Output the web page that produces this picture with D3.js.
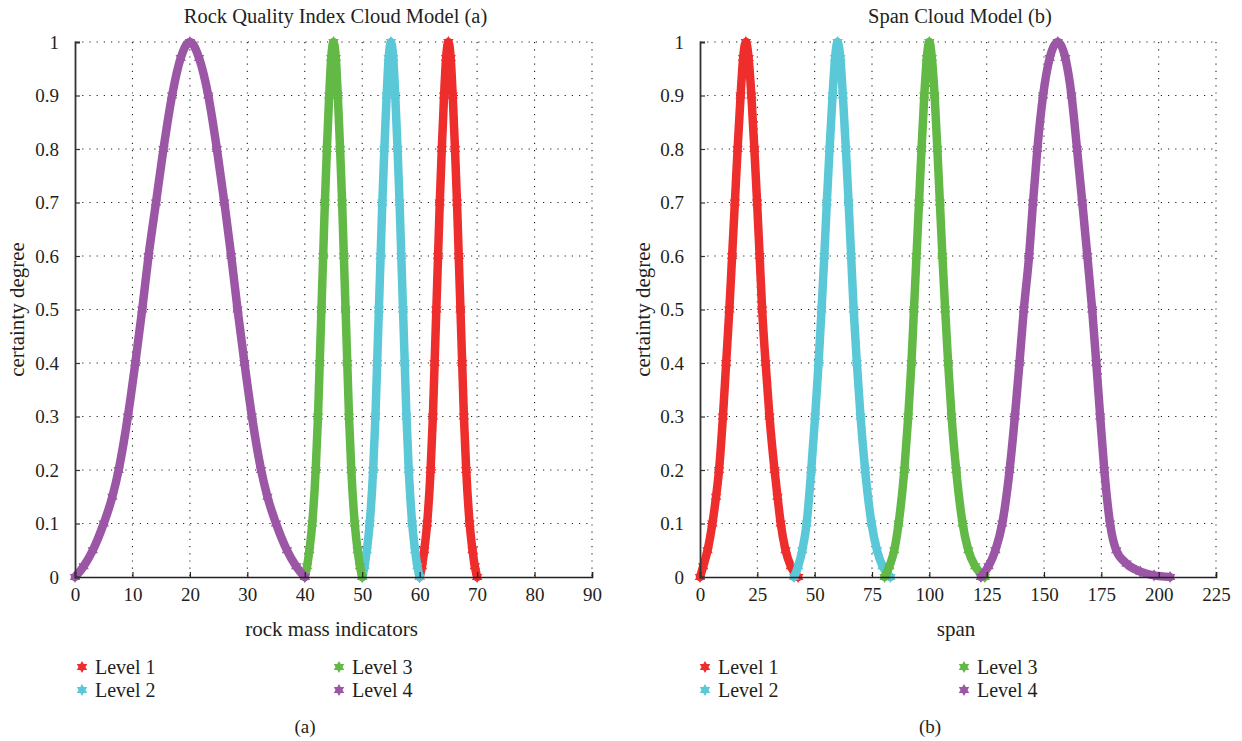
<!DOCTYPE html>
<html>
<head>
<meta charset="utf-8">
<script src="https://cdn.jsdelivr.net/npm/d3@7"></script>
<style>
  html, body { margin: 0; padding: 0; background: #ffffff; }
  svg { display: block; }
  text { font-family: "Liberation Serif", "DejaVu Serif", serif; fill: #231f20; }
</style>
</head>
<body>
<svg id="chart" width="1242" height="741"></svg>
<script>
// ---------------- DATA ----------------
const levelNames = ["Level 1", "Level 2", "Level 3", "Level 4"];
const levelColors = ["#ee2d2d", "#5bc8d8", "#63b946", "#9b57a5"];

const yTicks = [0, 0.1, 0.2, 0.3, 0.4, 0.5, 0.6, 0.7, 0.8, 0.9, 1];
const yTickLabels = ["0", "0.1", "0.2", "0.3", "0.4", "0.5", "0.6", "0.7", "0.8", "0.9", "1"];

// Panel (a): rock mass indicators
const xTicksA = [0, 10, 20, 30, 40, 50, 60, 70, 80, 90];
const level1A_x = [60, 60.4, 60.8, 61.3, 61.9, 62.3, 62.6, 62.9, 63.2, 63.5, 63.85, 64.25, 64.6, 65, 65.4, 65.75, 66.15, 66.5, 66.8, 67.1, 67.4, 67.7, 68.1, 68.7, 69.2, 69.6, 70];
const level1A_y = [0, 0.02, 0.05, 0.1, 0.2, 0.3, 0.4, 0.5, 0.6, 0.7, 0.8, 0.9, 0.97, 1, 0.97, 0.9, 0.8, 0.7, 0.6, 0.5, 0.4, 0.3, 0.2, 0.1, 0.05, 0.02, 0];
const level2A_x = [50, 50.4, 50.8, 51.3, 51.9, 52.3, 52.6, 52.9, 53.2, 53.5, 53.85, 54.25, 54.6, 55, 55.4, 55.75, 56.15, 56.5, 56.8, 57.1, 57.4, 57.7, 58.1, 58.7, 59.2, 59.6, 60];
const level2A_y = [0, 0.02, 0.05, 0.1, 0.2, 0.3, 0.4, 0.5, 0.6, 0.7, 0.8, 0.9, 0.97, 1, 0.97, 0.9, 0.8, 0.7, 0.6, 0.5, 0.4, 0.3, 0.2, 0.1, 0.05, 0.02, 0];
const level3A_x = [40, 40.4, 40.8, 41.3, 41.9, 42.3, 42.6, 42.9, 43.2, 43.5, 43.85, 44.25, 44.6, 45, 45.4, 45.75, 46.15, 46.5, 46.8, 47.1, 47.4, 47.7, 48.1, 48.7, 49.2, 49.6, 50];
const level3A_y = [0, 0.02, 0.05, 0.1, 0.2, 0.3, 0.4, 0.5, 0.6, 0.7, 0.8, 0.9, 0.97, 1, 0.97, 0.9, 0.8, 0.7, 0.6, 0.5, 0.4, 0.3, 0.2, 0.1, 0.05, 0.02, 0];
const level4A_x = [0, 1.5, 3.1, 5.0, 6.5, 7.6, 9.2, 10.5, 11.7, 12.8, 14.1, 15.4, 16.9, 18.4, 20, 21.6, 23.2, 24.7, 26.0, 27.2, 28.3, 29.5, 30.8, 32.4, 33.5, 35.0, 36.9, 38.5, 40];
const level4A_y = [0, 0.02, 0.05, 0.1, 0.15, 0.2, 0.3, 0.4, 0.5, 0.6, 0.7, 0.8, 0.9, 0.97, 1, 0.97, 0.9, 0.8, 0.7, 0.6, 0.5, 0.4, 0.3, 0.2, 0.15, 0.1, 0.05, 0.02, 0];

// Panel (b): span
const xTicksB = [0, 25, 50, 75, 100, 125, 150, 175, 200, 225];
const level1B_x = [0, 1.4, 3.3, 5.4, 7.0, 8.3, 10.0, 11.4, 12.8, 14.0, 15.2, 16.4, 17.7, 18.8, 20, 21.2, 22.4, 23.7, 24.9, 26.0, 27.1, 28.6, 30.3, 32.5, 33.8, 35.2, 37.3, 39.6, 42.8];
const level1B_y = [0, 0.02, 0.05, 0.1, 0.15, 0.2, 0.3, 0.4, 0.5, 0.6, 0.7, 0.8, 0.9, 0.97, 1, 0.97, 0.9, 0.8, 0.7, 0.6, 0.5, 0.4, 0.3, 0.2, 0.15, 0.1, 0.05, 0.02, 0];
const level2B_x = [41, 42.8, 44.6, 46.5, 48.5, 50.2, 51.7, 53, 54.2, 55.3, 56.5, 57.8, 58.9, 60, 61.2, 62.3, 63.6, 64.8, 65.9, 67, 68.4, 70, 72, 74.8, 77.2, 79.6, 83];
const level2B_y = [0, 0.02, 0.05, 0.1, 0.2, 0.3, 0.4, 0.5, 0.6, 0.7, 0.8, 0.9, 0.97, 1, 0.97, 0.9, 0.8, 0.7, 0.6, 0.5, 0.4, 0.3, 0.2, 0.1, 0.05, 0.02, 0];
const level3B_x = [80.5, 82.6, 84.7, 86.6, 89.1, 90.8, 92.2, 93.3, 94.4, 95.5, 96.6, 97.8, 98.9, 100, 101.1, 102.3, 103.5, 104.6, 105.7, 106.9, 108.2, 109.7, 111.7, 114.5, 117, 120, 124.2];
const level3B_y = [0, 0.02, 0.05, 0.1, 0.2, 0.3, 0.4, 0.5, 0.6, 0.7, 0.8, 0.9, 0.97, 1, 0.97, 0.9, 0.8, 0.7, 0.6, 0.5, 0.4, 0.3, 0.2, 0.1, 0.05, 0.02, 0];
const level4B_x = [122.5, 125.8, 128.8, 131.8, 135, 137.3, 139.3, 141.2, 143.5, 145.2, 147.1, 149.6, 152.5, 156, 159.3, 162, 164.4, 166.7, 168.9, 171, 172.8, 174.5, 176.3, 178.8, 181.5, 186, 192, 198, 205];
const level4B_y = [0, 0.02, 0.05, 0.1, 0.2, 0.3, 0.4, 0.5, 0.6, 0.7, 0.8, 0.9, 0.97, 1, 0.97, 0.9, 0.8, 0.7, 0.6, 0.5, 0.4, 0.3, 0.2, 0.1, 0.05, 0.025, 0.01, 0.003, 0];

// ---------------- DRAWING ----------------
const FONT = '"Liberation Serif", "DejaVu Serif", serif';
const svg = d3.select("#chart");
const zip = (xs, ys) => xs.map((x, i) => ({ x: x, y: ys[i] }));

const panels = [
  {
    title: "Rock Quality Index Cloud Model (a)", xLabel: "rock mass indicators", caption: "(a)",
    left: 75, right: 592, domain: [0, 90], ticks: xTicksA,
    series: [zip(level1A_x, level1A_y), zip(level2A_x, level2A_y), zip(level3A_x, level3A_y), zip(level4A_x, level4A_y)],
    legendX: [82, 339], yLabelX: 24, captionX: 305
  },
  {
    title: "Span Cloud Model (b)", xLabel: "span", caption: "(b)",
    left: 700, right: 1216, domain: [0, 225], ticks: xTicksB,
    series: [zip(level1B_x, level1B_y), zip(level2B_x, level2B_y), zip(level3B_x, level3B_y), zip(level4B_x, level4B_y)],
    legendX: [705, 964], yLabelX: 650, captionX: 930
  }
];

const plotTop = 42, plotBottom = 577;
const y = d3.scaleLinear().domain([0, 1]).range([plotBottom, plotTop]);

// six-pointed star symbol
const star6 = {
  draw(context, size) {
    const r = Math.sqrt(size / 2.2);
    const ri = r * 0.58;
    for (let i = 0; i < 12; i++) {
      const a = Math.PI / 6 * i - Math.PI / 2;
      const rr = i % 2 === 0 ? r : ri;
      const px = rr * Math.cos(a), py = rr * Math.sin(a);
      if (i === 0) context.moveTo(px, py); else context.lineTo(px, py);
    }
    context.closePath();
  }
};

panels.forEach(p => {
  const x = d3.scaleLinear().domain(p.domain).range([p.left, p.right]);
  const g = svg.append("g");

  // dotted grid
  g.append("g").selectAll("line").data(p.ticks.filter(t => t !== p.domain[0])).join("line")
    .attr("x1", d => x(d)).attr("x2", d => x(d)).attr("y1", plotTop).attr("y2", plotBottom)
    .attr("stroke", "#222").attr("stroke-width", 1.1).attr("stroke-dasharray", "1.2,6");
  g.append("g").selectAll("line").data(yTicks.filter(t => t !== 0)).join("line")
    .attr("x1", p.left).attr("x2", p.right).attr("y1", d => y(d)).attr("y2", d => y(d))
    .attr("stroke", "#222").attr("stroke-width", 1.1).attr("stroke-dasharray", "1.2,6");

  // curves
  const line = d3.line().x(d => x(d.x)).y(d => y(d.y)).curve(d3.curveMonotoneX);
  p.series.forEach((s, i) => {
    g.append("path").datum(s).attr("d", line)
      .attr("fill", "none").attr("stroke", levelColors[i]).attr("stroke-width", 8.5)
      .attr("stroke-linejoin", "round").attr("stroke-linecap", "round");
    g.append("g").selectAll("path").data(s).join("path")
      .attr("d", d3.symbol().type(star6).size(80))
      .attr("transform", d => `translate(${x(d.x)},${y(d.y)})`)
      .attr("fill", levelColors[i]);
  });

  // axes
  const xAxis = d3.axisBottom(x).tickValues(p.ticks).tickSize(-5).tickPadding(8).tickFormat(d3.format("d"));
  const gx = g.append("g").attr("transform", `translate(0,${plotBottom})`).call(xAxis);
  gx.attr("font-family", FONT);
  gx.select(".domain").attr("stroke", "#222").attr("stroke-width", 1.6);
  gx.selectAll(".tick line").attr("stroke", "#222").attr("stroke-width", 1.2);
  gx.selectAll("text").attr("font-size", 19).attr("fill", "#231f20")
    .attr("font-family", FONT).attr("dy", "0.85em");

  const yAxis = d3.axisLeft(y).tickValues(yTicks).tickSize(-5).tickPadding(16)
    .tickFormat((d, i) => yTickLabels[i]);
  const gy = g.append("g").attr("transform", `translate(${p.left},0)`).call(yAxis);
  gy.attr("font-family", FONT);
  gy.select(".domain").attr("stroke", "#333").attr("stroke-width", 1.8);
  gy.selectAll(".tick line").attr("stroke", "#333").attr("stroke-width", 1.2);
  gy.selectAll("text").attr("font-size", 19).attr("fill", "#231f20").attr("font-family", FONT);

  const cx = (p.left + p.right) / 2;
  g.append("text").attr("x", cx + 2).attr("y", 23).attr("text-anchor", "middle")
    .attr("font-family", FONT).attr("font-size", 20.5).text(p.title);
  g.append("text").attr("x", cx - 2).attr("y", 636).attr("text-anchor", "middle")
    .attr("font-family", FONT).attr("font-size", 21).text(p.xLabel);
  g.append("text").attr("transform", `translate(${p.yLabelX},${(plotTop + plotBottom) / 2}) rotate(-90)`)
    .attr("text-anchor", "middle").attr("font-family", FONT).attr("font-size", 21).text("certainty degree");
  g.append("text").attr("x", p.captionX).attr("y", 733).attr("text-anchor", "middle")
    .attr("font-family", FONT).attr("font-size", 19).text(p.caption);

  // legend
  const legendPos = [[0, 667], [0, 690], [1, 667], [1, 690]];
  levelNames.forEach((name, i) => {
    const lx = p.legendX[legendPos[i][0]], ly = legendPos[i][1];
    g.append("path").attr("d", d3.symbol().type(star6).size(80))
      .attr("transform", `translate(${lx},${ly})`).attr("fill", levelColors[i]);
    g.append("text").attr("x", lx + 13).attr("y", ly + 7)
      .attr("font-family", FONT).attr("font-size", 20).text(name);
  });
});
</script>
</body>
</html>
